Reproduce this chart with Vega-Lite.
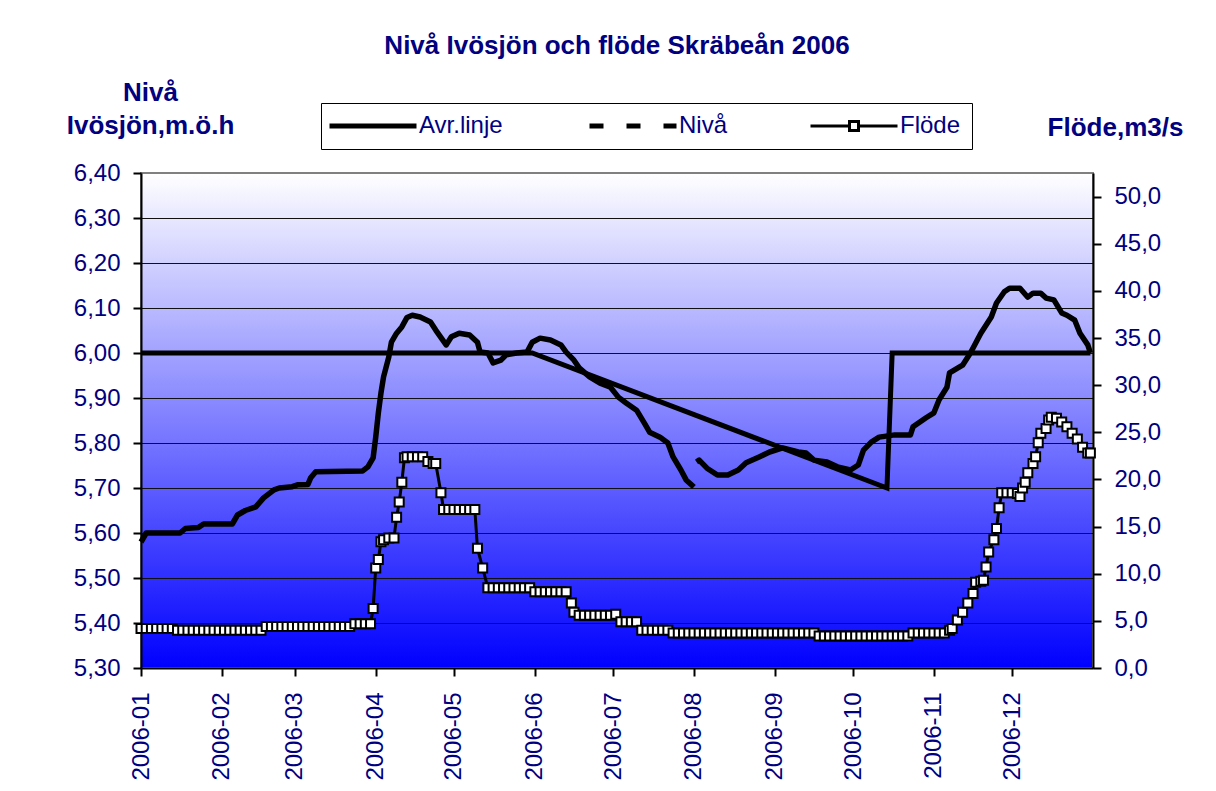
{
  "$schema": "https://vega.github.io/schema/vega-lite/v6.json",
  "width": 952,
  "height": 495,
  "autosize": {"type": "none"},
  "padding": {"left": 141, "top": 173, "right": 123, "bottom": 123},
  "background": "white",
  "title": {
    "text": "Nivå Ivösjön och flöde Skräbeån 2006",
    "font": "Liberation Sans", "fontSize": 26, "fontWeight": "bold", "color": "#000080",
    "anchor": "middle", "offset": 20
  },
  "datasets": {
    "avr": [
      {"date": "2006-01-01", "level": 6.0},
      {"date": "2006-05-31", "level": 6.0},
      {"date": "2006-10-14", "level": 5.7},
      {"date": "2006-10-16", "level": 6.0},
      {"date": "2006-12-31", "level": 6.0}
    ],
    "niva": [
      {"date": "2006-01-01", "level": 5.58, "segment": 1},
      {"date": "2006-01-03", "level": 5.60, "segment": 1},
      {"date": "2006-01-16", "level": 5.60, "segment": 1},
      {"date": "2006-01-18", "level": 5.61, "segment": 1},
      {"date": "2006-01-23", "level": 5.612, "segment": 1},
      {"date": "2006-01-25", "level": 5.62, "segment": 1},
      {"date": "2006-02-05", "level": 5.62, "segment": 1},
      {"date": "2006-02-07", "level": 5.64, "segment": 1},
      {"date": "2006-02-10", "level": 5.65, "segment": 1},
      {"date": "2006-02-14", "level": 5.658, "segment": 1},
      {"date": "2006-02-17", "level": 5.678, "segment": 1},
      {"date": "2006-02-21", "level": 5.696, "segment": 1},
      {"date": "2006-02-23", "level": 5.70, "segment": 1},
      {"date": "2006-02-28", "level": 5.703, "segment": 1},
      {"date": "2006-03-02", "level": 5.707, "segment": 1},
      {"date": "2006-03-06", "level": 5.708, "segment": 1},
      {"date": "2006-03-07", "level": 5.722, "segment": 1},
      {"date": "2006-03-09", "level": 5.736, "segment": 1},
      {"date": "2006-03-27", "level": 5.738, "segment": 1},
      {"date": "2006-03-29", "level": 5.747, "segment": 1},
      {"date": "2006-03-31", "level": 5.767, "segment": 1},
      {"date": "2006-04-01", "level": 5.813, "segment": 1},
      {"date": "2006-04-02", "level": 5.867, "segment": 1},
      {"date": "2006-04-03", "level": 5.911, "segment": 1},
      {"date": "2006-04-04", "level": 5.947, "segment": 1},
      {"date": "2006-04-06", "level": 5.991, "segment": 1},
      {"date": "2006-04-07", "level": 6.024, "segment": 1},
      {"date": "2006-04-09", "level": 6.044, "segment": 1},
      {"date": "2006-04-11", "level": 6.058, "segment": 1},
      {"date": "2006-04-13", "level": 6.079, "segment": 1},
      {"date": "2006-04-15", "level": 6.084, "segment": 1},
      {"date": "2006-04-18", "level": 6.08, "segment": 1},
      {"date": "2006-04-22", "level": 6.069, "segment": 1},
      {"date": "2006-04-24", "level": 6.051, "segment": 1},
      {"date": "2006-04-28", "level": 6.018, "segment": 1},
      {"date": "2006-04-30", "level": 6.036, "segment": 1},
      {"date": "2006-05-03", "level": 6.044, "segment": 1},
      {"date": "2006-05-07", "level": 6.04, "segment": 1},
      {"date": "2006-05-10", "level": 6.024, "segment": 1},
      {"date": "2006-05-11", "level": 6.002, "segment": 1},
      {"date": "2006-05-14", "level": 6.0, "segment": 1},
      {"date": "2006-05-16", "level": 5.978, "segment": 1},
      {"date": "2006-05-19", "level": 5.984, "segment": 1},
      {"date": "2006-05-21", "level": 5.996, "segment": 1},
      {"date": "2006-05-25", "level": 6.0, "segment": 1},
      {"date": "2006-05-29", "level": 6.002, "segment": 1},
      {"date": "2006-05-31", "level": 6.024, "segment": 1},
      {"date": "2006-06-03", "level": 6.033, "segment": 1},
      {"date": "2006-06-07", "level": 6.029, "segment": 1},
      {"date": "2006-06-11", "level": 6.018, "segment": 1},
      {"date": "2006-06-13", "level": 6.002, "segment": 1},
      {"date": "2006-06-16", "level": 5.984, "segment": 1},
      {"date": "2006-06-18", "level": 5.967, "segment": 1},
      {"date": "2006-06-22", "level": 5.947, "segment": 1},
      {"date": "2006-06-26", "level": 5.933, "segment": 1},
      {"date": "2006-06-30", "level": 5.924, "segment": 1},
      {"date": "2006-07-03", "level": 5.902, "segment": 1},
      {"date": "2006-07-06", "level": 5.889, "segment": 1},
      {"date": "2006-07-10", "level": 5.873, "segment": 1},
      {"date": "2006-07-13", "level": 5.844, "segment": 1},
      {"date": "2006-07-15", "level": 5.824, "segment": 1},
      {"date": "2006-07-19", "level": 5.813, "segment": 1},
      {"date": "2006-07-22", "level": 5.80, "segment": 1},
      {"date": "2006-07-24", "level": 5.769, "segment": 1},
      {"date": "2006-07-27", "level": 5.74, "segment": 1},
      {"date": "2006-07-29", "level": 5.718, "segment": 1},
      {"date": "2006-08-01", "level": 5.702, "segment": 1},
      {"date": "2006-08-02", "level": 5.758, "segment": 2},
      {"date": "2006-08-03", "level": 5.762, "segment": 2},
      {"date": "2006-08-06", "level": 5.744, "segment": 2},
      {"date": "2006-08-10", "level": 5.729, "segment": 2},
      {"date": "2006-08-14", "level": 5.729, "segment": 2},
      {"date": "2006-08-18", "level": 5.74, "segment": 2},
      {"date": "2006-08-21", "level": 5.756, "segment": 2},
      {"date": "2006-08-26", "level": 5.769, "segment": 2},
      {"date": "2006-08-30", "level": 5.78, "segment": 2},
      {"date": "2006-09-04", "level": 5.789, "segment": 2},
      {"date": "2006-09-10", "level": 5.78, "segment": 2},
      {"date": "2006-09-13", "level": 5.778, "segment": 2},
      {"date": "2006-09-16", "level": 5.762, "segment": 2},
      {"date": "2006-09-21", "level": 5.758, "segment": 2},
      {"date": "2006-09-25", "level": 5.747, "segment": 2},
      {"date": "2006-09-30", "level": 5.74, "segment": 2},
      {"date": "2006-10-03", "level": 5.751, "segment": 2},
      {"date": "2006-10-05", "level": 5.784, "segment": 2},
      {"date": "2006-10-08", "level": 5.802, "segment": 2},
      {"date": "2006-10-11", "level": 5.813, "segment": 2},
      {"date": "2006-10-17", "level": 5.818, "segment": 2},
      {"date": "2006-10-23", "level": 5.818, "segment": 2},
      {"date": "2006-10-24", "level": 5.836, "segment": 2},
      {"date": "2006-10-29", "level": 5.856, "segment": 2},
      {"date": "2006-11-01", "level": 5.867, "segment": 2},
      {"date": "2006-11-03", "level": 5.896, "segment": 2},
      {"date": "2006-11-06", "level": 5.924, "segment": 2},
      {"date": "2006-11-07", "level": 5.956, "segment": 2},
      {"date": "2006-11-12", "level": 5.973, "segment": 2},
      {"date": "2006-11-15", "level": 6.0, "segment": 2},
      {"date": "2006-11-19", "level": 6.044, "segment": 2},
      {"date": "2006-11-23", "level": 6.08, "segment": 2},
      {"date": "2006-11-25", "level": 6.111, "segment": 2},
      {"date": "2006-11-28", "level": 6.136, "segment": 2},
      {"date": "2006-11-30", "level": 6.144, "segment": 2},
      {"date": "2006-12-04", "level": 6.144, "segment": 2},
      {"date": "2006-12-07", "level": 6.124, "segment": 2},
      {"date": "2006-12-09", "level": 6.133, "segment": 2},
      {"date": "2006-12-12", "level": 6.133, "segment": 2},
      {"date": "2006-12-14", "level": 6.122, "segment": 2},
      {"date": "2006-12-17", "level": 6.118, "segment": 2},
      {"date": "2006-12-20", "level": 6.089, "segment": 2},
      {"date": "2006-12-22", "level": 6.084, "segment": 2},
      {"date": "2006-12-25", "level": 6.073, "segment": 2},
      {"date": "2006-12-27", "level": 6.044, "segment": 2},
      {"date": "2006-12-30", "level": 6.018, "segment": 2},
      {"date": "2006-12-31", "level": 6.0, "segment": 2}
    ],
    "flode": [
      {"date": "2006-01-01", "flow": 4.2}, {"date": "2006-01-03", "flow": 4.2}, {"date": "2006-01-05", "flow": 4.2},
      {"date": "2006-01-07", "flow": 4.2}, {"date": "2006-01-09", "flow": 4.2}, {"date": "2006-01-11", "flow": 4.2},
      {"date": "2006-01-13", "flow": 4.2}, {"date": "2006-01-15", "flow": 4.0}, {"date": "2006-01-17", "flow": 4.0},
      {"date": "2006-01-19", "flow": 4.0}, {"date": "2006-01-21", "flow": 4.0}, {"date": "2006-01-23", "flow": 4.0},
      {"date": "2006-01-25", "flow": 4.0}, {"date": "2006-01-27", "flow": 4.0}, {"date": "2006-01-29", "flow": 4.0},
      {"date": "2006-01-31", "flow": 4.0}, {"date": "2006-02-02", "flow": 4.0}, {"date": "2006-02-04", "flow": 4.0},
      {"date": "2006-02-06", "flow": 4.0}, {"date": "2006-02-08", "flow": 4.0}, {"date": "2006-02-10", "flow": 4.0},
      {"date": "2006-02-12", "flow": 4.0}, {"date": "2006-02-14", "flow": 4.0}, {"date": "2006-02-16", "flow": 4.0},
      {"date": "2006-02-18", "flow": 4.4}, {"date": "2006-02-20", "flow": 4.4}, {"date": "2006-02-22", "flow": 4.4},
      {"date": "2006-02-24", "flow": 4.4}, {"date": "2006-02-26", "flow": 4.4}, {"date": "2006-02-28", "flow": 4.4},
      {"date": "2006-03-02", "flow": 4.4}, {"date": "2006-03-04", "flow": 4.4}, {"date": "2006-03-06", "flow": 4.4},
      {"date": "2006-03-08", "flow": 4.4}, {"date": "2006-03-10", "flow": 4.4}, {"date": "2006-03-12", "flow": 4.4},
      {"date": "2006-03-14", "flow": 4.4}, {"date": "2006-03-16", "flow": 4.4}, {"date": "2006-03-18", "flow": 4.4},
      {"date": "2006-03-20", "flow": 4.4}, {"date": "2006-03-22", "flow": 4.4}, {"date": "2006-03-24", "flow": 4.7},
      {"date": "2006-03-26", "flow": 4.7}, {"date": "2006-03-28", "flow": 4.7}, {"date": "2006-03-30", "flow": 4.7},
      {"date": "2006-03-31", "flow": 6.3}, {"date": "2006-04-01", "flow": 10.6}, {"date": "2006-04-02", "flow": 11.5},
      {"date": "2006-04-03", "flow": 13.4}, {"date": "2006-04-04", "flow": 13.6}, {"date": "2006-04-06", "flow": 13.8},
      {"date": "2006-04-08", "flow": 13.8}, {"date": "2006-04-09", "flow": 16.0}, {"date": "2006-04-10", "flow": 17.6},
      {"date": "2006-04-11", "flow": 19.7}, {"date": "2006-04-12", "flow": 22.3}, {"date": "2006-04-13", "flow": 22.4},
      {"date": "2006-04-15", "flow": 22.4}, {"date": "2006-04-17", "flow": 22.4}, {"date": "2006-04-19", "flow": 22.4},
      {"date": "2006-04-21", "flow": 21.9}, {"date": "2006-04-23", "flow": 21.7}, {"date": "2006-04-24", "flow": 21.7},
      {"date": "2006-04-26", "flow": 18.6}, {"date": "2006-04-27", "flow": 16.8}, {"date": "2006-04-29", "flow": 16.8},
      {"date": "2006-05-01", "flow": 16.8}, {"date": "2006-05-03", "flow": 16.8}, {"date": "2006-05-05", "flow": 16.8},
      {"date": "2006-05-07", "flow": 16.8}, {"date": "2006-05-09", "flow": 16.8}, {"date": "2006-05-10", "flow": 12.7},
      {"date": "2006-05-12", "flow": 10.6}, {"date": "2006-05-14", "flow": 8.5}, {"date": "2006-05-16", "flow": 8.5},
      {"date": "2006-05-18", "flow": 8.5}, {"date": "2006-05-20", "flow": 8.5}, {"date": "2006-05-22", "flow": 8.5},
      {"date": "2006-05-24", "flow": 8.5}, {"date": "2006-05-26", "flow": 8.5}, {"date": "2006-05-28", "flow": 8.5},
      {"date": "2006-05-30", "flow": 8.5}, {"date": "2006-06-01", "flow": 8.1}, {"date": "2006-06-03", "flow": 8.1},
      {"date": "2006-06-05", "flow": 8.1}, {"date": "2006-06-07", "flow": 8.1}, {"date": "2006-06-09", "flow": 8.1},
      {"date": "2006-06-11", "flow": 8.1}, {"date": "2006-06-13", "flow": 8.1}, {"date": "2006-06-15", "flow": 6.9},
      {"date": "2006-06-16", "flow": 5.9}, {"date": "2006-06-18", "flow": 5.6}, {"date": "2006-06-20", "flow": 5.6},
      {"date": "2006-06-22", "flow": 5.6}, {"date": "2006-06-24", "flow": 5.6}, {"date": "2006-06-26", "flow": 5.6},
      {"date": "2006-06-28", "flow": 5.6}, {"date": "2006-06-30", "flow": 5.6}, {"date": "2006-07-02", "flow": 5.7},
      {"date": "2006-07-04", "flow": 4.9}, {"date": "2006-07-06", "flow": 4.9}, {"date": "2006-07-08", "flow": 4.9},
      {"date": "2006-07-10", "flow": 4.9}, {"date": "2006-07-12", "flow": 4.0}, {"date": "2006-07-14", "flow": 4.0},
      {"date": "2006-07-16", "flow": 4.0}, {"date": "2006-07-18", "flow": 4.0}, {"date": "2006-07-20", "flow": 4.0},
      {"date": "2006-07-22", "flow": 4.0}, {"date": "2006-07-24", "flow": 3.7}, {"date": "2006-07-26", "flow": 3.7},
      {"date": "2006-07-28", "flow": 3.7}, {"date": "2006-07-30", "flow": 3.7}, {"date": "2006-08-01", "flow": 3.7},
      {"date": "2006-08-03", "flow": 3.7}, {"date": "2006-08-05", "flow": 3.7}, {"date": "2006-08-07", "flow": 3.7},
      {"date": "2006-08-09", "flow": 3.7}, {"date": "2006-08-11", "flow": 3.7}, {"date": "2006-08-13", "flow": 3.7},
      {"date": "2006-08-15", "flow": 3.7}, {"date": "2006-08-17", "flow": 3.7}, {"date": "2006-08-19", "flow": 3.7},
      {"date": "2006-08-21", "flow": 3.7}, {"date": "2006-08-23", "flow": 3.7}, {"date": "2006-08-25", "flow": 3.7},
      {"date": "2006-08-27", "flow": 3.7}, {"date": "2006-08-29", "flow": 3.7}, {"date": "2006-08-31", "flow": 3.7},
      {"date": "2006-09-02", "flow": 3.7}, {"date": "2006-09-04", "flow": 3.7}, {"date": "2006-09-06", "flow": 3.7},
      {"date": "2006-09-08", "flow": 3.7}, {"date": "2006-09-10", "flow": 3.7}, {"date": "2006-09-12", "flow": 3.7},
      {"date": "2006-09-14", "flow": 3.7}, {"date": "2006-09-16", "flow": 3.7}, {"date": "2006-09-18", "flow": 3.4},
      {"date": "2006-09-20", "flow": 3.4}, {"date": "2006-09-22", "flow": 3.4}, {"date": "2006-09-24", "flow": 3.4},
      {"date": "2006-09-26", "flow": 3.4}, {"date": "2006-09-28", "flow": 3.4}, {"date": "2006-09-30", "flow": 3.4},
      {"date": "2006-10-02", "flow": 3.4}, {"date": "2006-10-04", "flow": 3.4}, {"date": "2006-10-06", "flow": 3.4},
      {"date": "2006-10-08", "flow": 3.4}, {"date": "2006-10-10", "flow": 3.4}, {"date": "2006-10-12", "flow": 3.4},
      {"date": "2006-10-14", "flow": 3.4}, {"date": "2006-10-16", "flow": 3.4}, {"date": "2006-10-18", "flow": 3.4},
      {"date": "2006-10-20", "flow": 3.4}, {"date": "2006-10-22", "flow": 3.4}, {"date": "2006-10-24", "flow": 3.7},
      {"date": "2006-10-26", "flow": 3.7}, {"date": "2006-10-28", "flow": 3.7}, {"date": "2006-10-30", "flow": 3.7},
      {"date": "2006-11-01", "flow": 3.7}, {"date": "2006-11-03", "flow": 3.7}, {"date": "2006-11-05", "flow": 3.7},
      {"date": "2006-11-07", "flow": 4.0}, {"date": "2006-11-08", "flow": 4.2}, {"date": "2006-11-10", "flow": 5.1},
      {"date": "2006-11-12", "flow": 5.9}, {"date": "2006-11-14", "flow": 6.9}, {"date": "2006-11-16", "flow": 7.9},
      {"date": "2006-11-17", "flow": 9.1}, {"date": "2006-11-19", "flow": 9.2}, {"date": "2006-11-20", "flow": 9.3},
      {"date": "2006-11-21", "flow": 10.7}, {"date": "2006-11-22", "flow": 12.3}, {"date": "2006-11-24", "flow": 13.6},
      {"date": "2006-11-25", "flow": 14.8}, {"date": "2006-11-26", "flow": 17.0}, {"date": "2006-11-27", "flow": 18.6},
      {"date": "2006-11-29", "flow": 18.6}, {"date": "2006-12-01", "flow": 18.6}, {"date": "2006-12-03", "flow": 18.5},
      {"date": "2006-12-04", "flow": 18.2}, {"date": "2006-12-05", "flow": 19.1}, {"date": "2006-12-06", "flow": 19.7},
      {"date": "2006-12-07", "flow": 20.7}, {"date": "2006-12-09", "flow": 21.7}, {"date": "2006-12-10", "flow": 22.4},
      {"date": "2006-12-11", "flow": 23.9}, {"date": "2006-12-12", "flow": 24.9}, {"date": "2006-12-14", "flow": 25.4},
      {"date": "2006-12-15", "flow": 26.3}, {"date": "2006-12-16", "flow": 26.6}, {"date": "2006-12-18", "flow": 26.5},
      {"date": "2006-12-20", "flow": 26.1}, {"date": "2006-12-22", "flow": 25.6}, {"date": "2006-12-24", "flow": 24.9},
      {"date": "2006-12-26", "flow": 24.3}, {"date": "2006-12-28", "flow": 23.4}, {"date": "2006-12-30", "flow": 22.8},
      {"date": "2006-12-31", "flow": 22.8}
    ]
  },
  "encoding": {
    "x": {
      "field": "date", "type": "temporal",
      "scale": {"type": "utc", "nice": false, "domain": [
        {"year": 2006, "month": 1, "date": 1, "utc": true},
        {"year": 2007, "month": 1, "date": 1, "utc": true}
      ]},
      "axis": {
        "title": null, "grid": false,
        "values": [
          {"year": 2006, "month": 1, "date": 1, "utc": true},
          {"year": 2006, "month": 2, "date": 1, "utc": true},
          {"year": 2006, "month": 3, "date": 1, "utc": true},
          {"year": 2006, "month": 4, "date": 1, "utc": true},
          {"year": 2006, "month": 5, "date": 1, "utc": true},
          {"year": 2006, "month": 6, "date": 1, "utc": true},
          {"year": 2006, "month": 7, "date": 1, "utc": true},
          {"year": 2006, "month": 8, "date": 1, "utc": true},
          {"year": 2006, "month": 9, "date": 1, "utc": true},
          {"year": 2006, "month": 10, "date": 1, "utc": true},
          {"year": 2006, "month": 11, "date": 1, "utc": true},
          {"year": 2006, "month": 12, "date": 1, "utc": true}
        ],
        "labelExpr": "utcFormat(datum.value, '%Y-%m')",
        "labelAngle": -90, "labelPadding": 16, "labelFlush": false, "labelOverlap": false
      }
    }
  },
  "layer": [
    {
      "layer": [
        {
          "data": {"name": "avr"},
          "mark": {"type": "line", "strokeWidth": 5, "strokeCap": "butt", "strokeJoin": "miter"},
          "encoding": {
            "y": {
              "field": "level", "type": "quantitative",
              "scale": {"domain": [5.3, 6.4], "nice": false, "zero": false},
              "axis": {
                "title": ["Nivå", "Ivösjön,m.ö.h"],
                "titleAngle": 0, "titleX": 9, "titleY": -73, "titleAlign": "center",
                "titleBaseline": "alphabetic", "titleLineHeight": 33,
                "values": [5.3, 5.4, 5.5, 5.6, 5.7, 5.8, 5.9, 6.0, 6.1, 6.2, 6.3, 6.4],
                "labelExpr": "replace(format(datum.value, '.2f'), '.', ',')",
                "labelPadding": 13,
                "grid": true,
                "gridColor": {"condition": {"test": "datum.value > 6.35", "value": "#808080"}, "value": "#111111"},
                "gridWidth": 1.2
              }
            },
            "color": {
              "datum": "Avr.linje", "type": "nominal",
              "scale": {"domain": ["Avr.linje", "Nivå", "Flöde"], "range": ["#000000", "#000000", "#000000"]},
              "legend": {
                "orient": "none", "legendX": 180, "legendY": -70,
                "direction": "horizontal", "columns": 3, "title": null,
                "padding": 11, "strokeColor": "#000000", "fillColor": "#ffffff",
                "columnPadding": 76,
                "labelFont": "Liberation Sans", "labelFontSize": 24, "labelColor": "#000080",
                "labelOffset": 34, "symbolOffset": 29, "symbolSize": 841,
                "encode": {
                  "symbols": {
                    "update": {
                      "shape": {"signal": "datum.value === 'Flöde' ? 'M-3,0H-0.31M0.31,0H3M-0.31,-0.31H0.31V0.31H-0.31Z' : 'M-3,0H3'"},
                      "strokeWidth": {"signal": "datum.value === 'Flöde' ? 3 : 5"},
                      "strokeDash": {"signal": "datum.value === 'Nivå' ? [14, 23] : [1, 0]"},
                      "fill": {"value": "#ffffff"},
                      "stroke": {"value": "#000000"},
                      "size": {"value": 841},
                      "opacity": {"value": 1}
                    }
                  }
                }
              }
            }
          }
        },
        {
          "data": {"name": "niva"},
          "mark": {"type": "line", "strokeWidth": 5.5, "strokeJoin": "round"},
          "encoding": {
            "y": {"field": "level", "type": "quantitative"},
            "detail": {"field": "segment", "type": "nominal"},
            "color": {"datum": "Nivå", "type": "nominal"}
          }
        }
      ]
    },
    {
      "layer": [
        {
          "data": {"name": "flode"},
          "mark": {"type": "line", "strokeWidth": 3},
          "encoding": {
            "y": {
              "field": "flow", "type": "quantitative",
              "scale": {"domain": [0, 52.5], "nice": false, "zero": true},
              "axis": {
                "orient": "right",
                "title": "Flöde,m3/s",
                "titleAngle": 0, "titleX": 22, "titleY": -38, "titleAlign": "center",
                "titleBaseline": "alphabetic",
                "values": [0, 5, 10, 15, 20, 25, 30, 35, 40, 45, 50],
                "labelExpr": "replace(format(datum.value, '.1f'), '.', ',')",
                "labelPadding": 13, "grid": false
              }
            },
            "color": {"datum": "Flöde", "type": "nominal"}
          }
        },
        {
          "data": {"name": "flode"},
          "mark": {"type": "point", "shape": "square", "size": 81, "filled": true, "fill": "#ffffff", "stroke": "#000000", "strokeWidth": 2, "opacity": 1},
          "encoding": {
            "y": {"field": "flow", "type": "quantitative"}
          }
        }
      ]
    }
  ],
  "resolve": {"scale": {"y": "independent"}},
  "config": {
    "font": "Liberation Sans",
    "view": {
      "fill": {"gradient": "linear", "x1": 0, "y1": 0, "x2": 0, "y2": 1,
        "stops": [{"offset": 0, "color": "#ffffff"}, {"offset": 1, "color": "#0000ff"}]},
      "stroke": "#808080", "strokeWidth": 2
    },
    "axis": {
      "labelFont": "Liberation Sans", "labelFontSize": 24, "labelColor": "#000080",
      "titleFont": "Liberation Sans", "titleFontSize": 26, "titleFontWeight": "bold", "titleColor": "#000080",
      "domainColor": "#000000", "domainWidth": 2,
      "tickColor": "#000000", "tickWidth": 2, "tickSize": 8
    }
  }
}
